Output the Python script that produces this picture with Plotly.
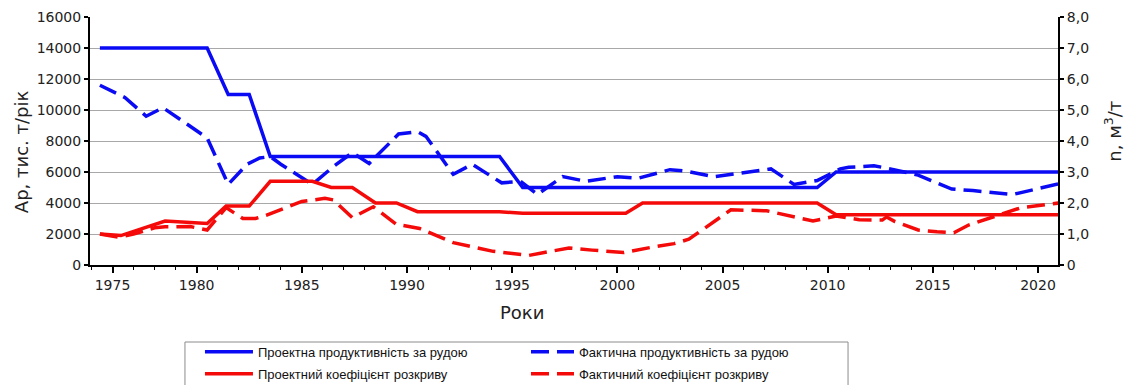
import plotly.graph_objects as go

# Design and actual ore output, thousand t per year (left axis)
design_prod_years = [1975.4, 1980.5, 1981.5, 1982.5, 1983.5, 1994.4, 1995.5, 2009.5, 2010.4, 2021.0]
design_prod = [14000, 14000, 11000, 11000, 7000, 7000, 5000, 5000, 6000, 6000]

actual_prod_years = [1975.4, 1976.6, 1977.6, 1978.4, 1980.5, 1981.5, 1982.4, 1983.0, 1983.5,
                     1984.0, 1985.5, 1986.5, 1987.4, 1988.2, 1989.6, 1990.5, 1990.9, 1992.2,
                     1993.1, 1994.5, 1995.4, 1996.2, 1997.4, 1998.5, 2000.0, 2001.0, 2002.5,
                     2003.3, 2004.6, 2005.9, 2007.3, 2008.4, 2009.5, 2010.6, 2011.0, 2012.2,
                     2012.8, 2014.3, 2015.0, 2015.9, 2016.9, 2018.2, 2018.8, 2019.6, 2021.0]
actual_prod = [11600, 10800, 9600, 10150, 8200, 5200, 6500, 6900, 7000,
               6500, 5200, 6350, 7250, 6550, 8450, 8600, 8300, 5850,
               6500, 5300, 5400, 4550, 5700, 5400, 5700, 5600, 6150,
               6050, 5700, 5950, 6200, 5200, 5450, 6200, 6300, 6400,
               6250, 5800, 5400, 4900, 4800, 4650, 4550, 4800, 5250]

# Design and actual stripping ratio, m3/t (right axis)
design_strip_years = [1975.4, 1976.4, 1978.5, 1980.5, 1981.4, 1982.5, 1983.5, 1985.5, 1986.4,
                      1987.4, 1988.5, 1989.5, 1990.5, 1994.4, 1995.5, 2000.4, 2001.2, 2009.5,
                      2010.4, 2021.0]
design_strip = [1.0, 0.95, 1.42, 1.34, 1.9, 1.9, 2.7, 2.7, 2.5,
                2.5, 2.0, 2.0, 1.72, 1.72, 1.67, 1.67, 2.0, 2.0,
                1.62, 1.62]

actual_strip_years = [1975.4, 1976.3, 1977.0, 1978.0, 1978.5, 1979.7, 1980.5, 1981.4, 1982.2,
                      1982.8, 1983.3, 1985.0, 1986.1, 1986.5, 1987.4, 1988.4, 1989.5, 1990.6,
                      1992.2, 1994.1, 1995.8, 1997.7, 1998.8, 2000.3, 2001.7, 2002.7, 2003.4,
                      2005.4, 2007.1, 2009.3, 2010.4, 2011.5, 2012.6, 2012.8, 2013.2, 2014.3,
                      2015.2, 2016.0, 2016.7, 2017.6, 2018.6, 2019.2, 2021.0]
actual_strip = [1.0, 0.9, 1.0, 1.2, 1.23, 1.24, 1.13, 1.85, 1.5,
                1.5, 1.6, 2.05, 2.15, 2.1, 1.53, 1.88, 1.31, 1.18,
                0.72, 0.44, 0.31, 0.55, 0.48, 0.4, 0.58, 0.69, 0.83,
                1.78, 1.75, 1.42, 1.58, 1.46, 1.45, 1.55, 1.4, 1.13,
                1.07, 1.04, 1.29, 1.5, 1.72, 1.85, 2.0]

x_tick_vals = [1976, 1980, 1985, 1990, 1995, 2000, 2005, 2010, 2015, 2020]
x_tick_text = ["1975", "1980", "1985", "1990", "1995", "2000", "2005", "2010", "2015", "2020"]
right_tick_vals = [0, 1, 2, 3, 4, 5, 6, 7, 8]
right_tick_text = ["0", "1,0", "2,0", "3,0", "4,0", "5,0", "6,0", "7,0", "8,0"]

BLUE = "#0a0af5"
RED = "#f50a0a"
DASH = "18px,8px"
AXIS_FONT = "DejaVu Sans, Verdana, sans-serif"

fig = go.Figure()
fig.add_trace(go.Scatter(x=design_prod_years, y=design_prod, mode="lines",
                         name="Проектна продуктивність за рудою",
                         line=dict(color=BLUE, width=3.5),
                         legend="legend", legendgroup="a"))
fig.add_trace(go.Scatter(x=design_strip_years, y=design_strip, mode="lines", yaxis="y2",
                         name="Проектний коефіцієнт розкриву",
                         line=dict(color=RED, width=3.5),
                         legend="legend", legendgroup="b"))
fig.add_trace(go.Scatter(x=actual_prod_years, y=actual_prod, mode="lines",
                         name="Фактична продуктивність за рудою",
                         line=dict(color=BLUE, width=3.5, dash=DASH),
                         legend="legend2", legendgroup="c"))
fig.add_trace(go.Scatter(x=actual_strip_years, y=actual_strip, mode="lines", yaxis="y2",
                         name="Фактичний коефіцієнт розкриву",
                         line=dict(color=RED, width=3.5, dash=DASH),
                         legend="legend2", legendgroup="d"))

legend_style = dict(orientation="v", yanchor="top", xanchor="left",
                    font=dict(family="Liberation Sans, Arial, sans-serif", size=13, color="#111"),
                    bgcolor="rgba(0,0,0,0)", borderwidth=0,
                    tracegroupgap=2)

fig.update_layout(
    width=1132, height=385,
    margin=dict(l=90, r=74, t=17, b=120, autoexpand=False),
    paper_bgcolor="white", plot_bgcolor="white",
    showlegend=True,
    legend=dict(x=0.1136, y=-0.29, itemwidth=48, **legend_style),
    legend2=dict(x=0.4504, y=-0.29, itemwidth=43, **legend_style),
    xaxis=dict(
        range=[1974.93, 2020.95], tickmode="array", tickvals=x_tick_vals, ticktext=x_tick_text,
        ticks="outside", ticklen=6, tickwidth=1.5, tickcolor="black",
        showline=True, linecolor="black", linewidth=2, showgrid=False, zeroline=False,
        tickfont=dict(family=AXIS_FONT, size=14, color="#222"),
        minor=dict(tick0=1975, dtick=1, ticks="outside", ticklen=3, tickcolor="black",
                   tickwidth=1, showgrid=False),
    ),
    yaxis=dict(
        range=[0, 16000], dtick=2000, tickformat="d",
        ticks="outside", ticklen=4, tickwidth=1.5, tickcolor="black",
        showline=True, linecolor="black", linewidth=2,
        showgrid=True, gridcolor="#a8a8a8", gridwidth=1, zeroline=False,
        tickfont=dict(family=AXIS_FONT, size=14, color="#222"),
    ),
    yaxis2=dict(
        range=[0, 8], overlaying="y", side="right", tickmode="array",
        tickvals=right_tick_vals, ticktext=right_tick_text,
        ticks="outside", ticklen=4, tickwidth=1.5, tickcolor="black",
        showline=True, linecolor="black", linewidth=2, showgrid=False, zeroline=False,
        tickfont=dict(family=AXIS_FONT, size=14, color="#222"),
    ),
    shapes=[dict(type="rect", xref="paper", yref="paper",
                 x0=0.0981, x1=0.7831, y0=-0.3105, y1=-0.53,
                 line=dict(color="#8c8c8c", width=1), fillcolor="rgba(0,0,0,0)", layer="below")],
    annotations=[
        dict(text="Ар, тис. т/рік", xref="paper", yref="paper", x=-0.0705, y=0.458,
             textangle=-90, showarrow=False, xanchor="center", yanchor="middle",
             font=dict(family=AXIS_FONT, size=18, color="#222")),
        dict(text="n, м<sup>3</sup>/т", xref="paper", yref="paper", x=1.0569, y=0.538,
             textangle=-90, showarrow=False, xanchor="center", yanchor="middle",
             font=dict(family=AXIS_FONT, size=18, color="#222")),
        dict(text="Роки", xref="paper", yref="paper", x=0.4463, y=-0.19,
             showarrow=False, xanchor="center", yanchor="middle",
             font=dict(family=AXIS_FONT, size=18, color="#222")),
    ],
)

fig.write_html("out.html")
